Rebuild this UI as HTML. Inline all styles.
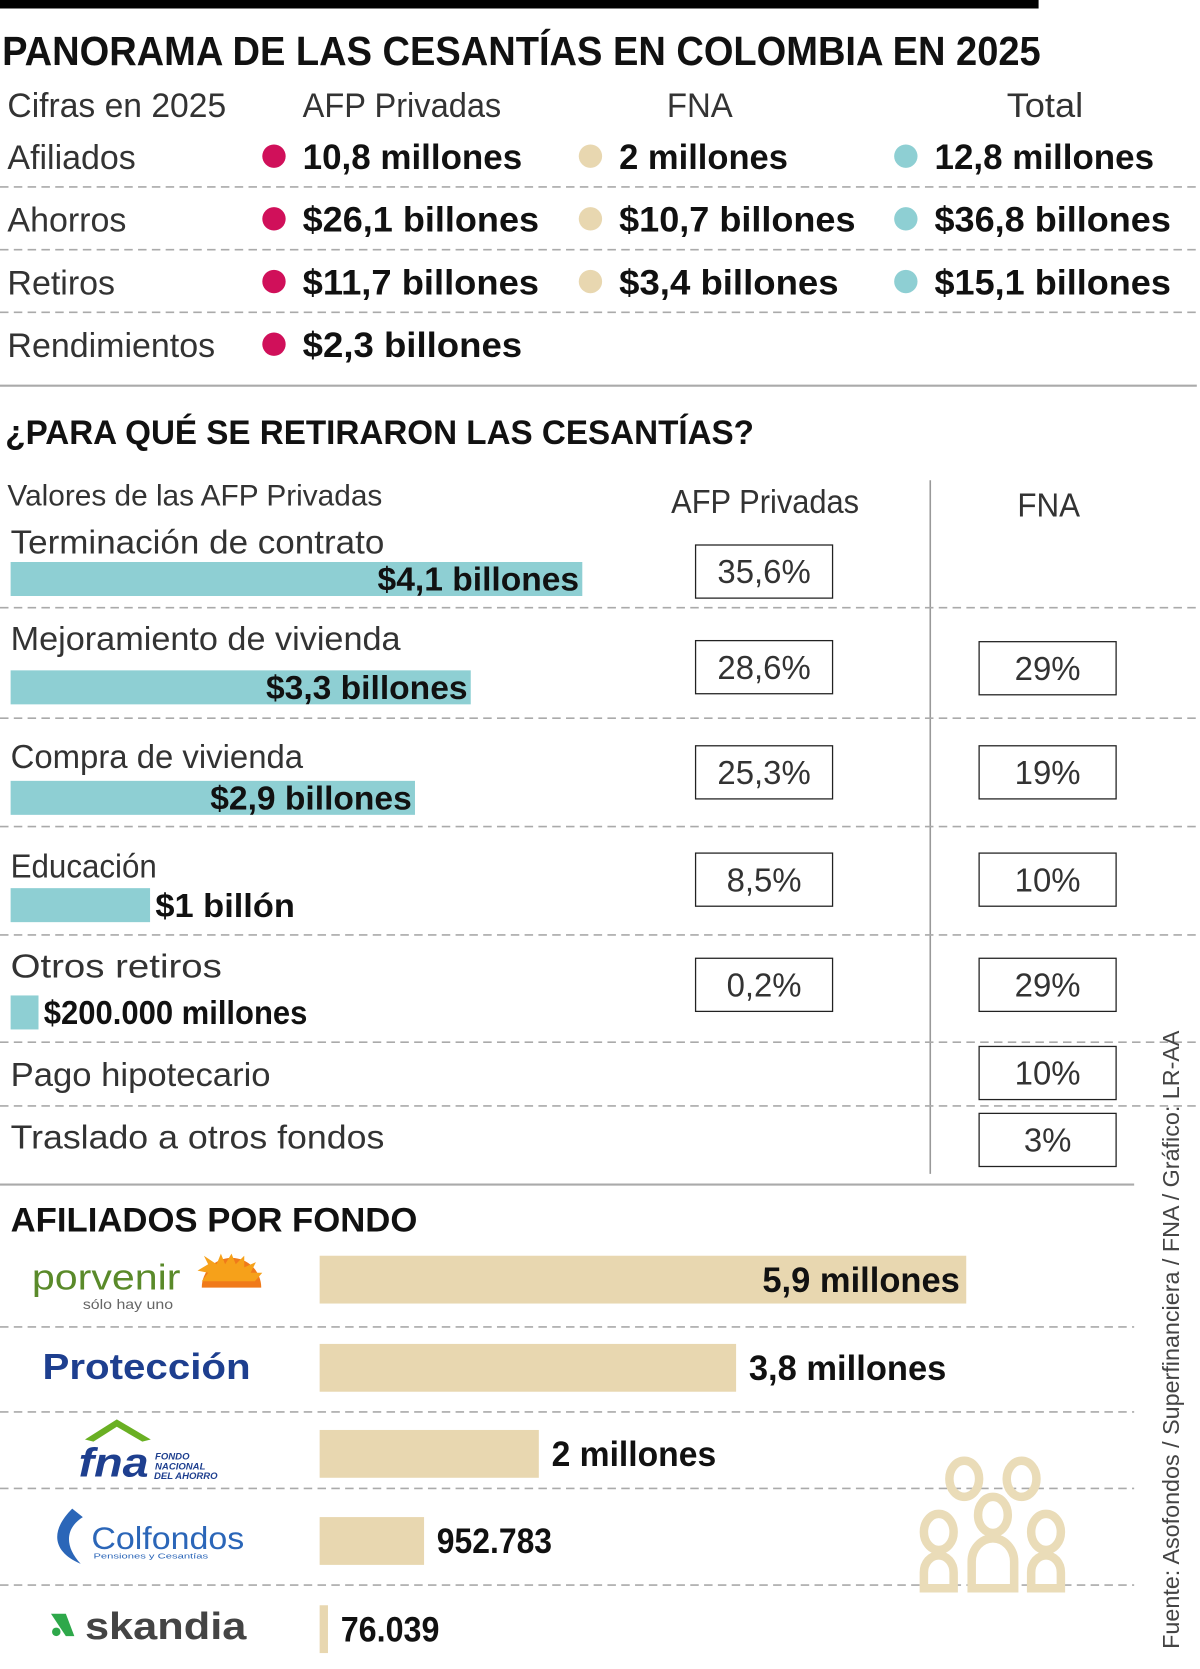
<!DOCTYPE html>
<html><head><meta charset="utf-8"><style>
html,body{margin:0;padding:0;background:#fff;}
svg{display:block;font-family:"Liberation Sans",sans-serif;}
.lt{font-weight:400;fill:#333;}
.bd{font-weight:700;fill:#111;}
</style></head><body>
<svg id="chart" width="1200" height="1669" viewBox="0 0 1130 1571" preserveAspectRatio="none" xmlns="http://www.w3.org/2000/svg">
<rect x="0" y="0" width="978" height="8" fill="#000"/>
<text class="bd" x="2" y="61" font-size="38" textLength="978" lengthAdjust="spacingAndGlyphs">PANORAMA DE LAS CESANTÍAS EN COLOMBIA EN 2025</text>
<g class="lt" font-size="32">
<text x="7" y="110" textLength="206" lengthAdjust="spacingAndGlyphs">Cifras en 2025</text>
<text x="285" y="110" textLength="187" lengthAdjust="spacingAndGlyphs">AFP Privadas</text>
<text x="628" y="110" textLength="62" lengthAdjust="spacingAndGlyphs">FNA</text>
<text x="948" y="110" textLength="72" lengthAdjust="spacingAndGlyphs">Total</text>
</g>
<g id="summary"></g>
<line x1="0" y1="363" x2="1127" y2="363" stroke="#aaa" stroke-width="2"/>
<text class="bd" x="5" y="418" font-size="32" textLength="705" lengthAdjust="spacingAndGlyphs">¿PARA QUÉ SE RETIRARON LAS CESANTÍAS?</text>
<text class="lt" x="7" y="476" font-size="28" textLength="353" lengthAdjust="spacingAndGlyphs">Valores de las AFP Privadas</text>
<text class="lt" x="632" y="483" font-size="31" textLength="177" lengthAdjust="spacingAndGlyphs">AFP Privadas</text>
<text class="lt" x="958" y="486" font-size="31" textLength="59" lengthAdjust="spacingAndGlyphs">FNA</text>
<line x1="876" y1="452" x2="876" y2="1105" stroke="#999" stroke-width="1.5"/>
<g id="retiros"></g>
<line x1="0" y1="1115" x2="1068" y2="1115" stroke="#aaa" stroke-width="2"/>
<text class="bd" x="10" y="1159" font-size="32" textLength="383" lengthAdjust="spacingAndGlyphs">AFILIADOS POR FONDO</text>
<g id="fondos"></g>
<g>
<text x="30" y="1214" font-size="34" fill="#5a8a2a" textLength="140" lengthAdjust="spacingAndGlyphs">porvenir</text>
<text x="78" y="1232" font-size="13" fill="#666" textLength="85" lengthAdjust="spacingAndGlyphs">sólo hay uno</text>
<path d="M190 1212 A28 28 0 0 1 246 1212 Z" fill="#f07a1a"/>
<path d="M218 1180 L222 1190 L230 1182 L230 1193 L241 1188 L236 1198 L247 1198 L240 1206 L190 1206 L196 1198 L186 1196 L196 1190 L192 1182 L204 1190 L208 1180 L212 1190 Z" fill="#f6a11a"/>
</g>
<text x="40" y="1298" font-size="34" font-weight="700" fill="#1e3f8f" textLength="196" lengthAdjust="spacingAndGlyphs">Protección</text>
<g>
<path d="M80 1355 L110 1336 L142 1355 L134 1357 L110 1343 L88 1357 Z" fill="#6ab023"/>
<text x="74" y="1390" font-size="38" font-weight="700" font-style="italic" fill="#1e3f8f" textLength="66" lengthAdjust="spacingAndGlyphs">fna</text>
<text x="146" y="1374" font-size="9" font-weight="700" font-style="italic" fill="#1e3f8f">FONDO</text>
<text x="146" y="1383" font-size="9" font-weight="700" font-style="italic" fill="#1e3f8f">NACIONAL</text>
<text x="145" y="1392" font-size="9" font-weight="700" font-style="italic" fill="#1e3f8f">DEL AHORRO</text>
</g>
<g>
<path d="M68 1420 C48 1440 48 1460 76 1472 C60 1455 62 1438 78 1428 Z" fill="#2b66b8"/>
<text x="86" y="1458" font-size="30" fill="#2b66b8" textLength="144" lengthAdjust="spacingAndGlyphs">Colfondos</text>
<text x="88" y="1467" font-size="7" fill="#2b66b8" textLength="108" lengthAdjust="spacingAndGlyphs">Pensiones y Cesantías</text>
</g>
<g>
<path d="M48 1519 L62 1519 L70 1540 L62 1540 Z" fill="#2ea84a"/><circle cx="53" cy="1536" r="4" fill="#2ea84a"/>
<text x="80" y="1543" font-size="36" font-weight="700" fill="#444" textLength="152" lengthAdjust="spacingAndGlyphs">skandia</text>
</g>
<g fill="none" stroke="#eadcb8" stroke-width="8">
<ellipse cx="908" cy="1392" rx="14" ry="17"/><ellipse cx="962" cy="1392" rx="14" ry="17"/>
<ellipse cx="935" cy="1426" rx="14" ry="17"/><ellipse cx="884" cy="1442" rx="14" ry="17"/><ellipse cx="985" cy="1442" rx="14" ry="17"/>
<path d="M870 1495 L870 1480 A14 16 0 0 1 898 1480 L898 1495 Z"/><path d="M971 1495 L971 1480 A14 16 0 0 1 999 1480 L999 1495 Z"/>
<path d="M915 1495 L915 1470 A20 22 0 0 1 955 1470 L955 1495 Z"/>
</g>
<text transform="translate(1110,1552) rotate(-90)" font-size="22" fill="#444" textLength="582" lengthAdjust="spacingAndGlyphs">Fuente: Asofondos / Superfinanciera / FNA / Gráfico: LR-AA</text>
</svg>
<script>
const NS='http://www.w3.org/2000/svg';
// summary table data
const sumLabels=['Afiliados','Ahorros','Retiros','Rendimientos'];
const sumAFP=['10,8 millones','$26,1 billones','$11,7 billones','$2,3 billones'];
const sumFNA=['2 millones','$10,7 billones','$3,4 billones',''];
const sumTotal=['12,8 millones','$36,8 billones','$15,1 billones',''];
// retiros chart data
const retCats=['Terminación de contrato','Mejoramiento de vivienda','Compra de vivienda','Educación','Otros retiros','Pago hipotecario','Traslado a otros fondos'];
const retValues=[4.1,3.3,2.9,1,0.2,null,null];
const retValueLabels=['$4,1 billones','$3,3 billones','$2,9 billones','$1 billón','$200.000 millones','',''];
const retAFP=['35,6%','28,6%','25,3%','8,5%','0,2%','',''];
const retFNA=['','29%','19%','10%','29%','10%','3%'];
// fondos chart data
const fondoNames=['Porvenir','Protección','FNA','Colfondos','Skandia'];
const fondoValues=[5.9,3.8,2,0.952783,0.076039];
const fondoLabels=['5,9 millones','3,8 millones','2 millones','952.783','76.039'];

function mk(parent,tag,attrs){const e=document.createElementNS(NS,tag);for(const k in attrs)e.setAttribute(k,attrs[k]);parent.appendChild(e);return e;}
function txt(parent,str,attrs){const e=mk(parent,'text',attrs);e.textContent=str;return e;}

// summary
const sg=document.getElementById('summary');
const rowY=[147,206,265,324];
const cols=[{x:258,c:'#d0105a',v:sumAFP},{x:556,c:'#e8d7b0',v:sumFNA},{x:853,c:'#8ecfd3',v:sumTotal}];
sumLabels.forEach((l,i)=>{
  const t=txt(sg,l,{x:7,y:rowY[i]+12,'font-size':32,class:'lt'});
  
  
  cols.forEach((c,j)=>{
    if(!c.v[i])return;
    const d=mk(sg,'circle',{cx:c.x,cy:rowY[i],r:11,fill:c.c});
    
    
    const w=c.v[i].length*15.9;
    const v=txt(sg,c.v[i],{x:c.x+27,y:rowY[i]+12,'font-size':33,class:'bd',textLength:w,lengthAdjust:'spacingAndGlyphs'});
    
    
  });
  if(i<3){const ln=mk(sg,'line',{x1:0,x2:1127,y1:rowY[i]+29,y2:rowY[i]+29,stroke:'#aaa','stroke-width':1.5,'stroke-dasharray':'8 5'});
  
  }
});

// retiros
const rg=document.getElementById('retiros');
const xRet=v=>v*131.3;
const labY=[510,601,712,815,909,1011,1070];
const barY=[545,647,751,852,953];
const afpBoxY=[538,628,727,828,927];
const fnaBoxY=[null,629,727,828,927,1010,1073];
const divY=[572,676,778,880,981,1041];
retCats.forEach((c,i)=>{
  const t=txt(rg,c,{x:10,y:labY[i]+11,'font-size':31,class:'lt',textLength:c.length*15.3,lengthAdjust:'spacingAndGlyphs'});
  
  
  if(retValues[i]!=null){
    const w=xRet(retValues[i]);
    const b=mk(rg,'rect',{x:10,y:barY[i]-16,width:w,height:32,fill:'#8ecfd3'});
    
    
    const lw=retValueLabels[i].length*14.6;
    const inside=w>lw+10;
    const lx=inside?10+w-3:10+w+5;
    const l=txt(rg,retValueLabels[i],{x:lx,y:barY[i]+11,'font-size':31,class:'bd','text-anchor':inside?'end':'start',textLength:lw,lengthAdjust:'spacingAndGlyphs'});
    
    
  }
  [[retAFP[i],655,afpBoxY[i]],[retFNA[i],922,fnaBoxY[i]]].forEach(([s,x,y])=>{
    if(!s)return;
    const r=mk(rg,'rect',{x:x,y:y-25,width:129,height:50,fill:'#fff',stroke:'#222','stroke-width':1.2});
    
    
    const p=txt(rg,s,{x:x+64.5,y:y+11,'font-size':31,class:'lt','text-anchor':'middle'});
    
    
  });
  if(i<divY.length){const ln=mk(rg,'line',{x1:0,x2:1127,y1:divY[i],y2:divY[i],stroke:'#aaa','stroke-width':1.5,'stroke-dasharray':'8 5'});
  
  }
});

// fondos
const fg=document.getElementById('fondos');
const xF=v=>v*103.2;
const fY=[1204,1287,1368,1450,1533];
const fDiv=[1249,1329,1401,1492];
fondoNames.forEach((n,i)=>{
  const w=Math.max(xF(fondoValues[i]),4);
  const b=mk(fg,'rect',{x:301,y:fY[i]-22,width:w,height:45,fill:'#e8d7b0'});
  
  
  const lw=fondoLabels[i].length*15.5;
  const inside=w>lw+250;
  const l=txt(fg,fondoLabels[i],{x:inside?301+w-6:301+w+12,y:fY[i]+12,'font-size':33,class:'bd','text-anchor':inside?'end':'start',textLength:lw,lengthAdjust:'spacingAndGlyphs'});
  
  
  if(i<fDiv.length){const ln=mk(fg,'line',{x1:0,x2:1068,y1:fDiv[i],y2:fDiv[i],stroke:'#aaa','stroke-width':1.5,'stroke-dasharray':'8 5'});
  
  }
});
</script>
</body></html>
